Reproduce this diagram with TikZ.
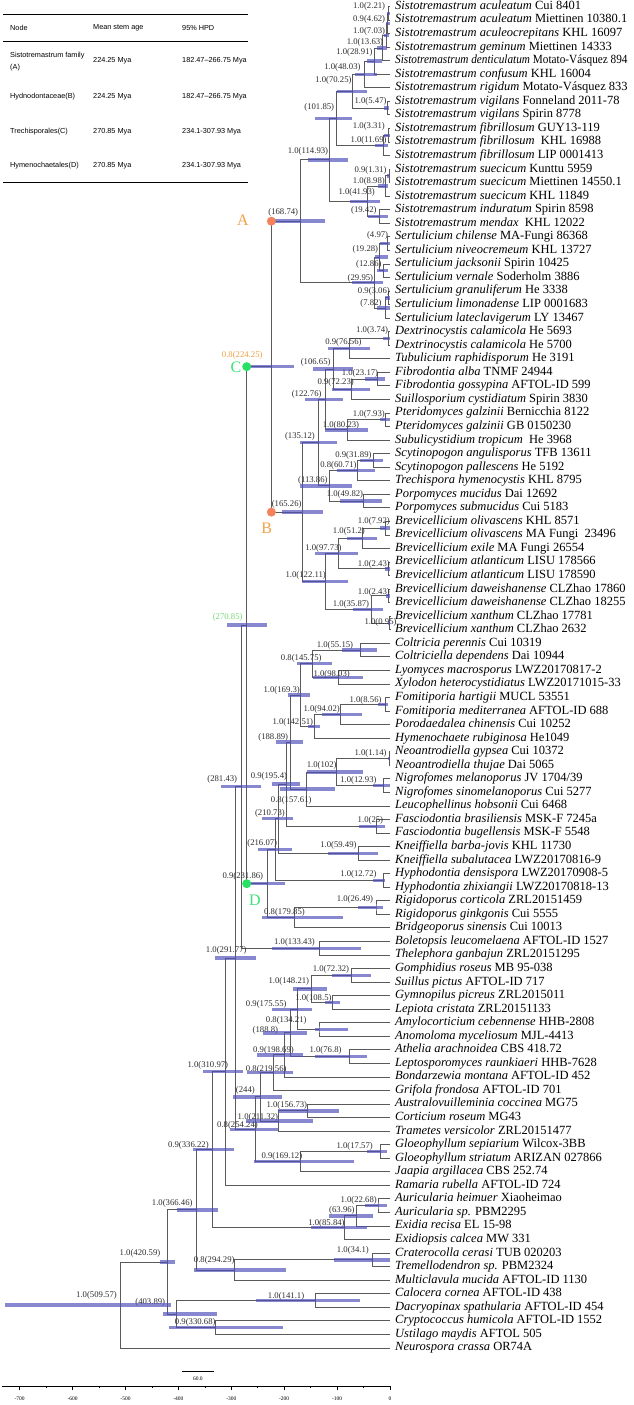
\documentclass[tikz,border=0pt]{standalone}
\usepackage{fontspec}
\usepackage{graphicx}
\setmainfont{Liberation Serif}
\newfontfamily\tabfont{Liberation Sans}
\usetikzlibrary{calc}
\pgfdeclarelayer{fg}
\pgfdeclarelayer{top}
\pgfsetlayers{main,fg,top}
\definecolor{brc}{RGB}{90,90,90}
\definecolor{hpdc}{RGB}{80,80,185}
\definecolor{nlc}{RGB}{45,45,45}
\definecolor{orgtxt}{RGB}{240,160,70}
\definecolor{orgdot}{RGB}{245,130,90}
\definecolor{grntxt}{RGB}{60,225,120}
\definecolor{grndot}{RGB}{40,225,100}
\definecolor{lgrn}{RGB}{120,215,120}
\newcounter{lblc}
\newcommand\lf[3]{%
  \coordinate (L#1) at (390,{6.5+(#1-1)*13.55});
  \node[leaf] (T#1) at ([xshift=5pt,yshift=-2.9pt]L#1) {\textit{#2} #3};}
\newcommand\lfs[4]{%
  \coordinate (L#1) at (390,{6.5+(#1-1)*13.55});
  \node[leaf] (T#1) at ([xshift=5pt,yshift=-2.9pt]L#1) {\scalebox{#4}[1]{\textit{#2} #3}};}
\newcommand\tn[6]{%
  \path ($(#3)!0.5!(#4)$) coordinate (m#1);
  \coordinate (#1) at ({390-0.529*#2},0 |- m#1);
  \draw[br] (#3) -| (#1) |- (#4);
  \begin{pgfonlayer}{fg}
  \fill[hpd] let \p1=(#1) in (#5pt,{\y1-1.7pt}) rectangle (#6pt,{\y1+1.7pt});
  \end{pgfonlayer}}
\newcommand\nl[4][]{\stepcounter{lblc}\node[nlab,#1] (lab\arabic{lblc}) at (#3,#4) {#2};}
\begin{document}
\begin{tikzpicture}[x=1pt,y=-1pt,
  br/.style={draw=brc,line width=0.9pt},
  hpd/.style={fill=hpdc,fill opacity=0.68},
  leaf/.style={anchor=base west,inner sep=0pt,font=\fontsize{12.5}{13}\selectfont},
  nlab/.style={anchor=east,inner sep=0pt,text height=5.8pt,text depth=0pt,text=nlc,font=\fontsize{8.7}{9}\selectfont},
  tabt/.style={anchor=west,inner sep=0pt,font=\tabfont\fontsize{7.3}{8}\selectfont},
  tabl/.style={draw=black,line width=0.8pt},
  dotA/.style={circle,fill=orgdot,minimum size=9pt,inner sep=0pt},
  dotC/.style={circle,fill=grndot,minimum size=9pt,inner sep=0pt},
  bigl/.style={inner sep=0pt,font=\fontsize{16}{16}\selectfont},
  axisl/.style={draw=black,line width=0.7pt},
  axlab/.style={inner sep=0pt,font=\fontsize{5.5}{6}\selectfont}]
\useasboundingbox (0,0) rectangle (633,1405);
% ---------- table ----------
\draw[tabl] (3,14) -- (248,14);
\draw[tabl] (3,41) -- (248,41);
\draw[tabl] (3,182) -- (248,182);
\node[tabt] (th1) at (10,27.5) {Node};
\node[tabt] (th2) at (93,27.5) {Mean stem age};
\node[tabt] (th3) at (182,27.5) {95\% HPD};
\node[tabt] (r1a) at (10,55.5) {Sistotremastrum family};
\node[tabt] (r1b) at (10,67.5) {(A)};
\node[tabt] (r1c) at (93,61) {224.25 Mya};
\node[tabt] (r1d) at (182,61) {182.47–266.75 Mya};
\node[tabt] (r2a) at (10,97) {Hydnodontaceae(B)};
\node[tabt] (r2c) at (93,97) {224.25 Mya};
\node[tabt] (r2d) at (182,97) {182.47–266.75 Mya};
\node[tabt] (r3a) at (10,131.5) {Trechisporales(C)};
\node[tabt] (r3c) at (93,131.5) {270.85 Mya};
\node[tabt] (r3d) at (182,131.5) {234.1-307.93 Mya};
\node[tabt] (r4a) at (10,166) {Hymenochaetales(D)};
\node[tabt] (r4c) at (93,166) {270.85 Mya};
\node[tabt] (r4d) at (182,166) {234.1-307.93 Mya};
% ---------- leaves ----------
\lf{1}{Sistotremastrum aculeatum}{Cui 8401}
\lf{2}{Sistotremastrum aculeatum}{Miettinen 10380.1}
\lf{3}{Sistotremastrum aculeocrepitans}{KHL 16097}
\lf{4}{Sistotremastrum geminum}{Miettinen 14333}
\lfs{5}{Sistotremastrum denticulatum}{Motato-Vásquez 894}{0.9}
\lf{6}{Sistotremastrum confusum}{KHL 16004}
\lf{7}{Sistotremastrum rigidum}{Motato-Vásquez 833}
\lf{8}{Sistotremastrum vigilans}{Fonneland 2011-78}
\lf{9}{Sistotremastrum vigilans}{Spirin 8778}
\lf{10}{Sistotremastrum fibrillosum}{GUY13-119}
\lf{11}{Sistotremastrum fibrillosum}{\ KHL 16988}
\lf{12}{Sistotremastrum fibrillosum}{LIP 0001413}
\lf{13}{Sistotremastrum suecicum}{Kunttu 5959}
\lf{14}{Sistotremastrum suecicum}{Miettinen 14550.1}
\lf{15}{Sistotremastrum suecicum}{KHL 11849}
\lf{16}{Sistotremastrum induratum}{Spirin 8598}
\lf{17}{Sistotremastrum mendax}{\ KHL 12022}
\lf{18}{Sertulicium chilense}{MA-Fungi 86368}
\lf{19}{Sertulicium niveocremeum}{KHL 13727}
\lf{20}{Sertulicium jacksonii}{Spirin 10425}
\lf{21}{Sertulicium vernale}{Soderholm 3886}
\lf{22}{Sertulicium granuliferum}{He 3338}
\lf{23}{Sertulicium limonadense}{LIP 0001683}
\lf{24}{Sertulicium lateclavigerum}{LY 13467}
\lf{25}{Dextrinocystis calamicola}{He 5693}
\lf{26}{Dextrinocystis calamicola}{He 5700}
\lf{27}{Tubulicium raphidisporum}{He 3191}
\lf{28}{Fibrodontia alba}{TNMF 24944}
\lf{29}{Fibrodontia gossypina}{AFTOL-ID 599}
\lf{30}{Suillosporium cystidiatum}{Spirin 3830}
\lf{31}{Pteridomyces galzinii}{Bernicchia 8122}
\lf{32}{Pteridomyces galzinii}{GB 0150230}
\lf{33}{Subulicystidium tropicum}{\ He 3968}
\lf{34}{Scytinopogon angulisporus}{TFB 13611}
\lf{35}{Scytinopogon pallescens}{He 5192}
\lf{36}{Trechispora hymenocystis}{KHL 8795}
\lf{37}{Porpomyces mucidus}{Dai 12692}
\lf{38}{Porpomyces submucidus}{Cui 5183}
\lf{39}{Brevicellicium olivascens}{KHL 8571}
\lf{40}{Brevicellicium olivascens}{MA Fungi\ \ 23496}
\lf{41}{Brevicellicium exile}{MA Fungi 26554}
\lf{42}{Brevicellicium atlanticum}{LISU 178566}
\lf{43}{Brevicellicium atlanticum}{LISU 178590}
\lf{44}{Brevicellicium daweishanense}{CLZhao 17860}
\lf{45}{Brevicellicium daweishanense}{CLZhao 18255}
\lf{46}{Brevicellicium xanthum}{CLZhao 17781}
\lf{47}{Brevicellicium xanthum}{CLZhao 2632}
\lf{48}{Coltricia perennis}{Cui 10319}
\lf{49}{Coltriciella dependens}{Dai 10944}
\lf{50}{Lyomyces macrosporus}{LWZ20170817-2}
\lf{51}{Xylodon heterocystidiatus}{LWZ20171015-33}
\lf{52}{Fomitiporia hartigii}{MUCL 53551}
\lf{53}{Fomitiporia mediterranea}{AFTOL-ID 688}
\lf{54}{Porodaedalea chinensis}{Cui 10252}
\lf{55}{Hymenochaete rubiginosa}{He1049}
\lf{56}{Neoantrodiella gypsea}{Cui 10372}
\lf{57}{Neoantrodiella thujae}{Dai 5065}
\lf{58}{Nigrofomes melanoporus}{JV 1704/39}
\lf{59}{Nigrofomes sinomelanoporus}{Cui 5277}
\lf{60}{Leucophellinus hobsonii}{Cui 6468}
\lf{61}{Fasciodontia brasiliensis}{MSK-F 7245a}
\lf{62}{Fasciodontia bugellensis}{MSK-F 5548}
\lf{63}{Kneiffiella barba-jovis}{KHL 11730}
\lf{64}{Kneiffiella subalutacea}{LWZ20170816-9}
\lf{65}{Hyphodontia densispora}{LWZ20170908-5}
\lf{66}{Hyphodontia zhixiangii}{LWZ20170818-13}
\lf{67}{Rigidoporus corticola}{ZRL20151459}
\lf{68}{Rigidoporus ginkgonis}{Cui 5555}
\lf{69}{Bridgeoporus sinensis}{Cui 10013}
\lf{70}{Boletopsis leucomelaena}{AFTOL-ID 1527}
\lf{71}{Thelephora ganbajun}{ZRL20151295}
\lf{72}{Gomphidius roseus}{MB 95-038}
\lf{73}{Suillus pictus}{AFTOL-ID 717}
\lf{74}{Gymnopilus picreus}{ZRL2015011}
\lf{75}{Lepiota cristata}{ZRL20151133}
\lf{76}{Amylocorticium cebennense}{HHB-2808}
\lf{77}{Anomoloma myceliosum}{MJL-4413}
\lf{78}{Athelia arachnoidea}{CBS 418.72}
\lf{79}{Leptosporomyces raunkiaeri}{HHB-7628}
\lf{80}{Bondarzewia montana}{AFTOL-ID 452}
\lf{81}{Grifola frondosa}{AFTOL-ID 701}
\lf{82}{Australovuilleminia coccinea}{MG75}
\lf{83}{Corticium roseum}{MG43}
\lf{84}{Trametes versicolor}{ZRL20151477}
\lf{85}{Gloeophyllum sepiarium}{Wilcox-3BB}
\lf{86}{Gloeophyllum striatum}{ARIZAN 027866}
\lf{87}{Jaapia argillacea}{CBS 252.74}
\lf{88}{Ramaria rubella}{AFTOL-ID 724}
\lf{89}{Auricularia heimuer}{Xiaoheimao}
\lf{90}{Auricularia sp.}{PBM2295}
\lf{91}{Exidia recisa}{EL 15-98}
\lf{92}{Exidiopsis calcea}{MW 331}
\lf{93}{Craterocolla cerasi}{TUB 020203}
\lf{94}{Tremellodendron sp.}{PBM2324}
\lf{95}{Multiclavula mucida}{AFTOL-ID 1130}
\lf{96}{Calocera cornea}{AFTOL-ID 438}
\lf{97}{Dacryopinax spathularia}{AFTOL-ID 454}
\lf{98}{Cryptococcus humicola}{AFTOL-ID 1552}
\lf{99}{Ustilago maydis}{AFTOL 505}
\lf{100}{Neurospora crassa}{OR74A}
% ---------- Sistotremastrum ----------
\tn{a1}{2.21}{L1}{L2}{387}{390}
\tn{a2}{4.62}{a1}{L3}{386}{390}
\tn{a3}{7.03}{a2}{L4}{384}{389}
\tn{a4}{13.63}{a3}{L5}{376.7}{386.7}
\tn{a5}{28.91}{a4}{L6}{366.7}{381.7}
\tn{a6}{48.03}{a5}{L7}{355}{376.7}
\tn{a7}{5.47}{L8}{L9}{384}{389}
\tn{a8}{70.25}{a6}{a7}{336.7}{366.7}
\tn{a9}{3.31}{L10}{L11}{384}{390}
\tn{a10}{11.69}{a9}{L12}{375}{388}
\tn{a11}{101.85}{a8}{a10}{315}{351.7}
\tn{a12}{1.31}{L13}{L14}{386.7}{390}
\tn{a13}{8.98}{a12}{L15}{378}{388}
\tn{a14}{19.42}{L16}{L17}{368}{388}
\tn{a15}{41.93}{a13}{a14}{350}{380}
\tn{a16}{114.93}{a11}{a15}{308}{348}
\tn{s1}{4.97}{L18}{L19}{380}{390}
\tn{s2}{12.86}{L20}{L21}{376.7}{388}
\tn{s3}{19.28}{s1}{s2}{375}{388}
\tn{s4}{3.06}{L22}{L23}{385}{390}
\tn{s5}{7.82}{s4}{L24}{376.7}{390}
\tn{s6}{29.95}{s3}{s5}{351.7}{383.3}
\tn{A}{168.74}{a16}{s6}{272}{325}
% ---------- Hydnodontaceae ----------
\tn{h1}{3.74}{L25}{L26}{383}{390}
\tn{h2}{76.56}{h1}{L27}{328}{370}
\tn{h3}{23.17}{L28}{L29}{365}{385}
\tn{h4}{72.23}{h3}{L30}{331.7}{370}
\tn{h5}{106.65}{h2}{h4}{313}{353}
\tn{h6}{7.93}{L31}{L32}{380}{390}
\tn{h7}{80.23}{h6}{L33}{325}{368}
\tn{h8}{122.76}{h5}{h7}{305}{343}
\tn{h9}{31.89}{L34}{L35}{360}{383}
\tn{h10}{60.71}{h9}{L36}{336.7}{375}
\tn{h11}{49.82}{L37}{L38}{340}{381.7}
\tn{h12}{113.86}{h10}{h11}{300}{351.7}
\tn{h13}{135.12}{h8}{h12}{300}{336.7}
\tn{h14}{7.92}{L39}{L40}{380}{390}
\tn{h15}{51.2}{h14}{L41}{346.7}{376.7}
\tn{h16}{2.43}{L42}{L43}{385}{390}
\tn{h17}{97.73}{h15}{h16}{315}{358.3}
\tn{h18}{2.43}{L44}{L45}{386}{390}
\tn{h19}{0.95}{L46}{L47}{388}{390}
\tn{h20}{35.87}{h18}{h19}{353.3}{383.3}
\tn{h21}{122.11}{h17}{h20}{301.7}{348.3}
\tn{B}{165.26}{h13}{h21}{281.7}{323.3}
\tn{C}{224.25}{A}{B}{249}{293.5}
% ---------- Hymenochaetales ----------
\tn{m1}{55.15}{L48}{L49}{341.7}{376.7}
\tn{m2}{98.03}{L50}{L51}{313.3}{363.3}
\tn{m3}{145.75}{m1}{m2}{296.7}{331.7}
\tn{m4}{8.56}{L52}{L53}{378}{388}
\tn{m5}{94.02}{m4}{L54}{321.7}{361.7}
\tn{m6}{142.51}{m5}{L55}{308}{320}
\tn{m7}{169.3}{m3}{m6}{288.3}{310}
\tn{m8}{1.14}{L56}{L57}{388}{390}
\tn{m9}{12.93}{L58}{L59}{373.3}{390}
\tn{m10}{102}{m8}{m9}{306.7}{363.3}
\tn{m11}{157.61}{m10}{L60}{280}{335}
\tn{m12}{188.89}{m7}{m11}{276}{303.3}
\tn{m13}{25}{L61}{L62}{359.3}{385}
\tn{m14}{195.4}{m12}{m13}{271.7}{300}
\tn{m15}{59.49}{L63}{L64}{328.3}{378.3}
\tn{m16}{210.73}{m14}{m15}{261.7}{293.3}
\tn{m17}{12.72}{L65}{L66}{373}{385}
\tn{m18}{216.07}{m16}{m17}{258.3}{291.7}
\tn{m19}{26.49}{L67}{L68}{358}{383}
\tn{m20}{179.85}{m19}{L69}{261.7}{343.3}
\tn{D}{231.86}{m18}{m20}{247.7}{285}
\tn{TH}{270.85}{C}{D}{226.7}{266.7}
\tn{t1}{133.43}{L70}{L71}{271.7}{360.7}
\tn{n281}{281.43}{TH}{t1}{220.7}{260.7}
% ---------- Agaricomycetes rest ----------
\tn{g1}{72.32}{L72}{L73}{331.7}{370.7}
\tn{g2}{108.5}{L74}{L75}{325}{340}
\tn{g3}{148.21}{g1}{g2}{292.7}{326.7}
\tn{g4}{134.21}{L76}{L77}{315}{348.3}
\tn{g5}{175.55}{g3}{g4}{271.7}{311.7}
\tn{g6}{76.8}{L78}{L79}{315}{366.7}
\tn{g7}{188.8}{g5}{g6}{263.3}{306.7}
\tn{g8}{198.69}{g7}{L80}{256.7}{302.7}
\tn{g9}{219.56}{g8}{L81}{246.7}{293.3}
\tn{g10}{156.73}{L82}{L83}{278}{338.7}
\tn{g11}{211.32}{g10}{L84}{246}{312.5}
\tn{g12}{244}{g9}{g11}{233.3}{281.7}
\tn{g13}{17.57}{L85}{L86}{367}{387}
\tn{g14}{169.12}{g13}{L87}{254}{354}
\tn{g15}{254.24}{g12}{g14}{229.8}{278}
\tn{n291}{291.77}{n281}{g15}{215}{256}
\tn{n310}{310.97}{n291}{L88}{203.3}{243.3}
\tn{u1}{22.68}{L89}{L90}{365}{387}
\tn{u2}{63.96}{u1}{L91}{328.6}{373}
\tn{u3}{85.84}{u2}{L92}{310.5}{367}
\tn{n336}{336.22}{n310}{u3}{192.7}{233.9}
\tn{e1}{34.1}{L93}{L94}{333.9}{390}
\tn{e2}{294.29}{e1}{L95}{194.4}{286.3}
\tn{n366}{366.46}{n336}{e2}{177.4}{217.7}
\tn{d1}{141.1}{L96}{L97}{256}{360}
\tn{d2}{330.68}{L98}{L99}{169.4}{283}
\tn{d3}{403.89}{d1}{d2}{163.3}{216.5}
\tn{n420}{420.59}{n366}{d3}{160}{175}
\tn{root}{509.57}{n420}{L100}{4.8}{171.4}
% ---------- node labels ----------
\nl{1.0(2.21)}{385.3}{6}
\nl{0.9(4.62)}{385.3}{18.3}
\nl{1.0(7.03)}{385.3}{31}
\nl{1.0(13.63)}{383.3}{42}
\nl{1.0(28.91)}{372.7}{51.7}
\nl{1.0(48.03)}{360.7}{66.7}
\nl{1.0(70.25)}{351.7}{80}
\nl{1.0(5.47)}{386.7}{100.7}
\nl{(101.85)}{334.3}{106.7}
\nl{1.0(3.31)}{385}{125.7}
\nl{1.0(11.69)}{386.7}{140}
\nl{1.0(114.93)}{328.3}{150.7}
\nl{0.9(1.31)}{386.7}{170}
\nl{1.0(8.98)}{385}{180.7}
\nl{1.0(41.93)}{375}{191.7}
\nl{(19.42)}{376.7}{209.3}
\nl{(168.74)}{298.3}{211.7}
\nl{(4.97)}{388.3}{235}
\nl{(19.28)}{378.3}{248.3}
\nl{(12.86)}{381.7}{263.3}
\nl{(29.95)}{373.3}{277.3}
\nl{0.9(3.06)}{390}{290.7}
\nl{(7.82)}{381.7}{302.7}
\nl{1.0(3.74)}{388.3}{330}
\nl{0.9(76.56)}{361.7}{341.7}
\nl[text=orgtxt]{0.8(224.25)}{262.7}{355}
\nl{(106.65)}{330.7}{361.7}
\nl{1.0(23.17)}{378.3}{372.7}
\nl{0.9(72.23)}{354}{381.7}
\nl{(122.76)}{321.7}{393.3}
\nl{1.0(7.93)}{385}{413.3}
\nl{1.0(80.23)}{359.3}{425}
\nl{(135.12)}{315}{436}
\nl{0.9(31.89)}{371.7}{455}
\nl{0.8(60.71)}{356.7}{465}
\nl{(113.86)}{327.7}{480}
\nl{1.0(49.82)}{363.3}{494}
\nl{(165.26)}{301.7}{503.3}
\nl{1.0(7.92)}{390}{521}
\nl{1.0(51.2)}{365}{530.7}
\nl{1.0(97.73)}{341.7}{547.3}
\nl{1.0(2.43)}{390}{564}
\nl{1.0(122.11)}{326}{575}
\nl{1.0(2.43)}{390}{591.7}
\nl{1.0(35.87)}{369.3}{604}
\nl{1.0(0.95)}{396.7}{621.7}
\nl[text=lgrn]{(270.85)}{242.7}{616.7}
\nl{1.0(55.15)}{353.3}{644.3}
\nl{0.8(145.75)}{321.7}{657.3}
\nl{1.0(98.03)}{350}{673.3}
\nl{1.0(169.3)}{300}{689.3}
\nl{1.0(8.56)}{381.7}{699.3}
\nl{1.0(94.02)}{340}{709}
\nl{1.0(142.51)}{313.3}{721.7}
\nl{(188.89)}{288.3}{736.7}
\nl{1.0(1.14)}{386.7}{752.7}
\nl{1.0(102)}{336.7}{765}
\nl{(281.43)}{237.3}{779}
\nl{0.9(195.4)}{287.3}{776}
\nl{1.0(12.93)}{376.7}{780}
\nl{0.8(157.61)}{311.7}{799.3}
\nl{(210.73)}{285}{812.7}
\nl{1.0(25)}{383.3}{820}
\nl{(216.07)}{277.3}{842.7}
\nl{1.0(59.49)}{356.7}{845}
\nl{0.9(231.86)}{263.3}{876}
\nl{1.0(12.72)}{376.7}{874}
\nl{1.0(26.49)}{373.3}{898.3}
\nl{0.8(179.85)}{305}{911.7}
\nl{1.0(133.43)}{315}{941.7}
\nl{1.0(291.77)}{246.7}{949.3}
\nl{1.0(72.32)}{349.3}{968.3}
\nl{1.0(148.21)}{309.3}{980.7}
\nl{1.0(108.5)}{331.7}{997.3}
\nl{0.9(175.55)}{286.7}{1004}
\nl{0.8(134.21)}{306.7}{1019.3}
\nl{(188.8)}{278.3}{1030}
\nl{0.9(198.69)}{294}{1050}
\nl{1.0(76.8)}{341.7}{1050}
\nl{1.0(310.97)}{228.3}{1065}
\nl{0.8(219.56)}{286.7}{1069}
\nl{(244)}{255}{1090}
\nl{1.0(156.73)}{307.3}{1105}
\nl{1.0(211.32)}{278.2}{1116.7}
\nl{0.8(254.24)}{258}{1125}
\nl{0.9(336.22)}{208.9}{1145}
\nl{1.0(17.57)}{373}{1146}
\nl{0.9(169.12)}{302.4}{1156}
\nl{1.0(366.46)}{192.7}{1202.3}
\nl{1.0(22.68)}{377}{1200}
\nl{(63.96)}{354.8}{1210}
\nl{1.0(85.84)}{344.8}{1223}
\nl{1.0(420.59)}{160.5}{1252.5}
\nl{0.8(294.29)}{234.7}{1260}
\nl{1.0(34.1)}{369}{1250}
\nl{1.0(509.57)}{117}{1295}
\nl{(403.89)}{165.3}{1302}
\nl{1.0(141.1)}{304.4}{1296}
\nl{0.9(330.68)}{215.7}{1321.5}
% ---------- markers ----------
\begin{pgfonlayer}{top}
\node[dotA] (dA) at (C |- A) {};
\node[dotA] (dB) at (C |- B) {};
\node[dotC] (dC) at (TH |- C) {};
\node[dotC] (dD) at (TH |- D) {};
\end{pgfonlayer}
\node[bigl,text=orgtxt] (lA) at (243,220) {A};
\node[bigl,text=orgtxt] (lB) at (266.7,528) {B};
\node[bigl,text=grntxt] (lC) at (236,367.7) {C};
\node[bigl,text=grntxt] (lD) at (255,900.7) {D};
% ---------- scale bar ----------
\coordinate (sb0) at (182,1371);
\coordinate (sb1) at (213.7,1371);
\draw[axisl] (sb0) -- (sb1);
\node[axlab] (sbl) at (197.9,1379) {60.0};
% ---------- axis ----------
\coordinate (ax0) at (2,1386);
\coordinate (ax1) at (390,1386);
\draw[axisl] (ax0) -- (ax1);
\foreach \v in {0,...,7} {
  \draw[axisl] ({390-52.9*\v},1386) -- ++(0,3.5);
  \node[axlab] (axl\v) at ({390-52.9*\v},1399) {\ifnum\v=0 0\else -\v00\fi};
}
\foreach \v in {0,...,6} {
  \draw[axisl] ({390-52.9*\v-26.45},1386) -- ++(0,2);
}
\end{tikzpicture}
\end{document}
